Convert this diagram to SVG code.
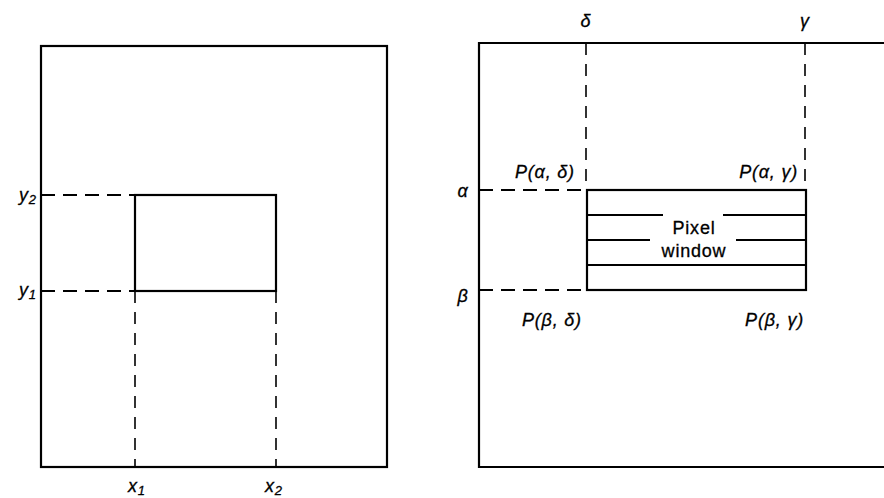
<svg xmlns="http://www.w3.org/2000/svg" width="884" height="498" viewBox="0 0 884 498">
<style>
.box{fill:none;stroke:#000;stroke-width:2.2}
.ln{fill:none;stroke:#000;stroke-width:1.8}
.dh{fill:none;stroke:#000;stroke-width:1.8;stroke-dasharray:14 8}
.dv{fill:none;stroke:#000;stroke-width:1.6;stroke-dasharray:12 9}
.lbl{font-family:"Liberation Sans",Arial,sans-serif;font-style:italic;font-size:18px;fill:#000;stroke:#000;stroke-width:0.3;letter-spacing:0.8px}
.sub{font-size:13px}
.txt{font-family:"Liberation Sans",Arial,sans-serif;font-size:18px;fill:#000;stroke:#000;stroke-width:0.3;letter-spacing:0.8px}
</style>
<rect width="884" height="498" fill="#fff"/>
<g id="screen-window">
<rect class="box" x="41" y="46" width="346" height="421"/>
<rect class="box" x="135" y="195" width="141" height="96"/>
<text class="lbl" x="19" y="201">y<tspan class="sub" dy="3">2</tspan></text>
<text class="lbl" x="19" y="296">y<tspan class="sub" dy="3">1</tspan></text>
<text class="lbl" x="128" y="492">x<tspan class="sub" dy="3">1</tspan></text>
<text class="lbl" x="265" y="492">x<tspan class="sub" dy="3">2</tspan></text>
</g>
<g id="pixel-screen">
<polyline class="box" points="890,43 479,43 479,467 890,467"/>
<rect class="box" x="587" y="190" width="219" height="100"/>
<text class="lbl" x="586" y="27" text-anchor="middle">δ</text>
<text class="lbl" x="805" y="27" text-anchor="middle">γ</text>
<text class="lbl" x="463" y="197" text-anchor="middle">α</text>
<text class="lbl" x="463" y="302" text-anchor="middle">β</text>
<text class="lbl" x="515" y="178">P(α, δ)</text>
<text class="lbl" x="798" y="178" text-anchor="end">P(α, γ)</text>
<text class="lbl" x="522" y="326">P(β, δ)</text>
<text class="lbl" x="804" y="326" text-anchor="end">P(β, γ)</text>
</g>
<g id="pixel-window-rows">
<line class="ln" x1="587" y1="215" x2="663" y2="215"/>
<line class="ln" x1="723" y1="215" x2="806" y2="215"/>
<line class="ln" x1="587" y1="240" x2="650" y2="240"/>
<line class="ln" x1="736" y1="240" x2="806" y2="240"/>
<line class="ln" x1="587" y1="265" x2="806" y2="265"/>
<text class="txt" x="694" y="234" text-anchor="middle">Pixel</text>
<text class="txt" x="694" y="257" text-anchor="middle">window</text>
</g>
<g id="connectors">
<line class="dh" x1="41" y1="195" x2="135" y2="195"/>
<line class="dh" x1="41" y1="291" x2="135" y2="291"/>
<line class="dv" x1="135" y1="291" x2="135" y2="467"/>
<line class="dv" x1="276" y1="291" x2="276" y2="467"/>
<line class="dh" x1="479" y1="190" x2="587" y2="190"/>
<line class="dh" x1="479" y1="290" x2="587" y2="290"/>
<line class="dv" x1="586" y1="43" x2="586" y2="190"/>
<line class="dv" x1="805" y1="43" x2="805" y2="190"/>
</g>
</svg>
